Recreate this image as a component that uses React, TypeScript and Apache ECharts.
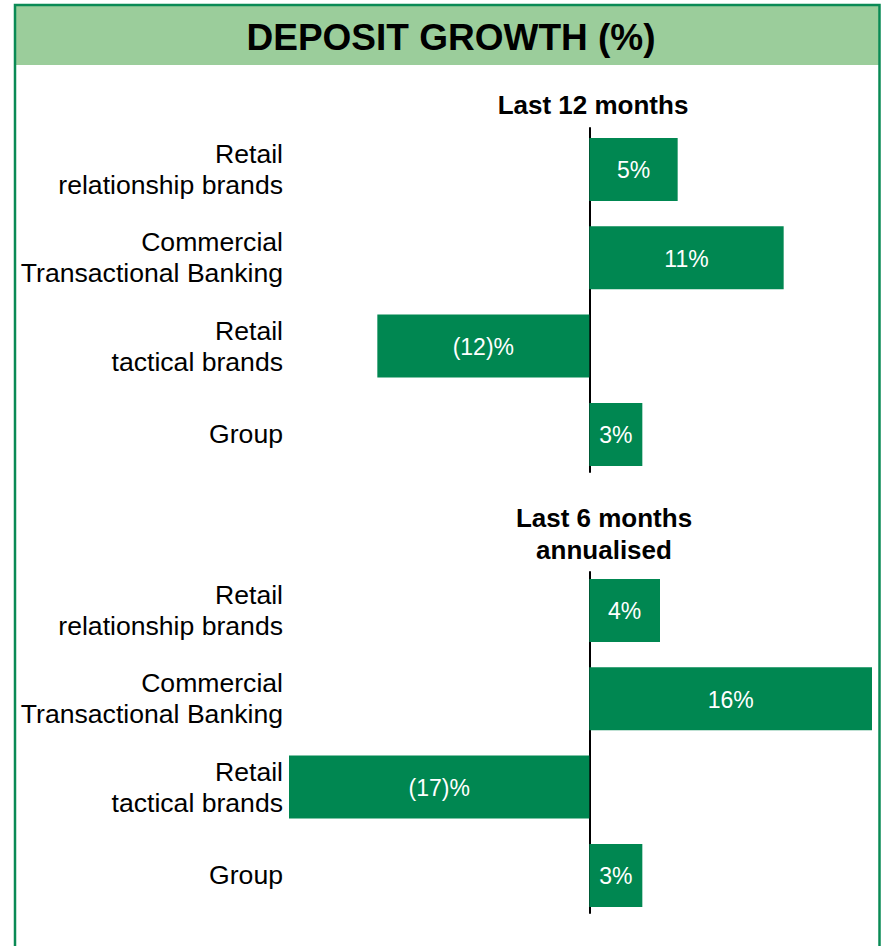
import React, { useEffect, useRef } from "react";
import * as echarts from "echarts";

const categories = [
  "Retail\nrelationship brands",
  "Commercial\nTransactional Banking",
  "Retail\ntactical brands",
  "Group",
];
const last12Months = [5, 11, -12, 3];
const last6MonthsAnnualised = [4, 16, -17, 3];
const chartTitle = "DEPOSIT GROWTH (%)";
const panelTitles = ["Last 12 months", "Last 6 months\nannualised"];
const xMin = -17;
const xMax = 16;

const FONT = "'Liberation Sans', Arial, Helvetica, sans-serif";
const BAR = "#008751";
const BORDER = "#0a8a55";
const HEADER = "#9bcd9b";

const fmt = (v: number) => (v < 0 ? `(${Math.abs(v)})%` : `${v}%`);

export default function App() {
  const ref = useRef<HTMLDivElement>(null);
  useEffect(() => {
    if (!ref.current) return;
    const chart = echarts.init(ref.current, undefined, { renderer: "svg" });
    const gridLeft = 289;
    const gridRight = 13;
    const barGrids = [
      { left: gridLeft, right: gridRight, top: 125.3, height: 353.3 },
      { left: gridLeft, right: gridRight, top: 566.3, height: 353.3 },
    ];
    const lineGrids = [
      { left: gridLeft, right: gridRight, top: 128, height: 344 },
      { left: gridLeft, right: gridRight, top: 572, height: 341 },
    ];
    const xAxisBase = {
      type: "value" as const,
      min: xMin,
      max: xMax,
      axisLine: { show: false },
      axisTick: { show: false },
      axisLabel: { show: false },
      splitLine: { show: false },
    };
    const barYAxis = (gi: number) => ({
      type: "category" as const,
      gridIndex: gi,
      data: categories,
      inverse: true,
      axisLine: { show: false, onZero: false },
      axisTick: { show: false },
      axisLabel: {
        margin: 6,
        color: "#000",
        fontFamily: FONT,
        fontSize: 26.6,
        lineHeight: 31,
        align: "right" as const,
      },
    });
    const lineYAxis = (gi: number) => ({
      type: "category" as const,
      gridIndex: gi,
      data: [""],
      axisLine: { show: true, onZero: true, lineStyle: { color: "#000", width: 2 } },
      axisTick: { show: false },
      axisLabel: { show: false },
    });
    const barSeries = (data: number[], idx: number) => ({
      type: "bar" as const,
      xAxisIndex: idx,
      yAxisIndex: idx,
      data,
      barWidth: 63,
      itemStyle: { color: BAR },
      label: {
        show: true,
        position: "inside" as const,
        offset: [0, 1],
        color: "#fff",
        fontFamily: FONT,
        fontSize: 23,
        formatter: (p: any) => fmt(p.value),
      },
    });
    chart.setOption({
      animation: false,
      backgroundColor: "#fff",
      title: [
        {
          text: chartTitle,
          left: 451,
          top: 18.5,
          textAlign: "center",
          padding: 0,
          textStyle: { fontFamily: FONT, fontSize: 37, fontWeight: "bold", color: "#000" },
        },
        {
          text: panelTitles[0],
          left: 593,
          top: 89,
          textAlign: "center",
          padding: 0,
          textStyle: { fontFamily: FONT, fontSize: 26, fontWeight: "bold", color: "#000", lineHeight: 32 },
        },
        {
          text: panelTitles[1],
          left: 604,
          top: 502,
          textAlign: "center",
          padding: 0,
          textStyle: { fontFamily: FONT, fontSize: 26, fontWeight: "bold", color: "#000", lineHeight: 32 },
        },
      ],
      graphic: [
        {
          type: "rect",
          z: -10,
          silent: true,
          shape: { x: 16, y: 6, width: 863, height: 59 },
          style: { fill: HEADER },
        },
        {
          type: "rect",
          z: -9,
          silent: true,
          shape: { x: 15, y: 5, width: 864.5, height: 1000 },
          style: { fill: "none", stroke: BORDER, lineWidth: 2.5 },
        },
      ],
      grid: [...barGrids, ...lineGrids],
      xAxis: [
        { ...xAxisBase, gridIndex: 0 },
        { ...xAxisBase, gridIndex: 1 },
        { ...xAxisBase, gridIndex: 2 },
        { ...xAxisBase, gridIndex: 3 },
      ],
      yAxis: [barYAxis(0), barYAxis(1), lineYAxis(2), lineYAxis(3)],
      series: [barSeries(last12Months, 0), barSeries(last6MonthsAnnualised, 1)],
    });
    return () => chart.dispose();
  }, []);
  return (
    <div
      ref={ref}
      style={{ position: "absolute", left: 0, top: 0, width: 885, height: 946 }}
    />
  );
}
